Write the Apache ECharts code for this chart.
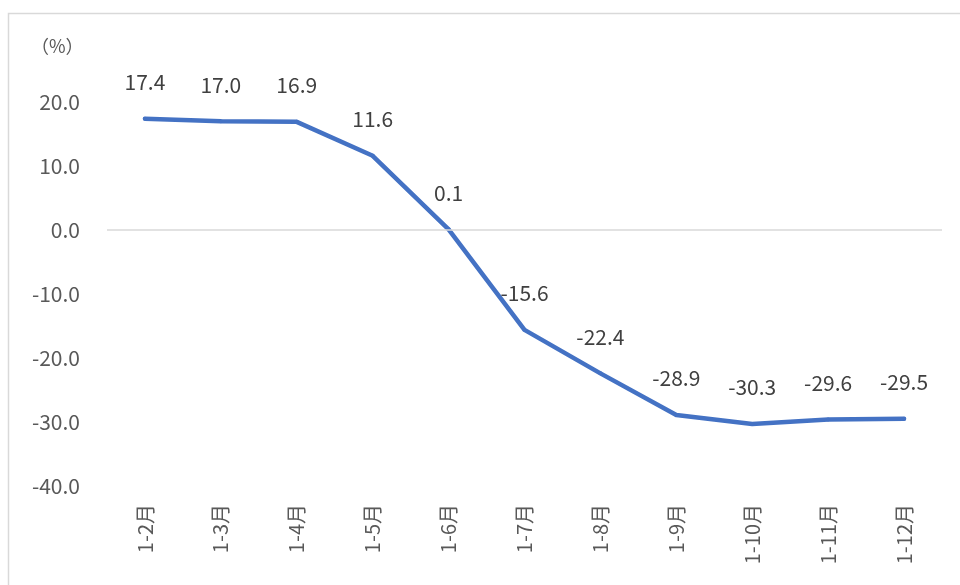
<!DOCTYPE html>
<html>
<head>
<meta charset="utf-8">
<script src="https://cdn.jsdelivr.net/npm/echarts@6/dist/echarts.min.js"></script>
<style>html,body{margin:0;padding:0;background:#fff}#c{width:960px;height:585px}</style>
</head>
<body>
<div id="c"></div>
<script>
var categories = ['1-2月','1-3月','1-4月','1-5月','1-6月','1-7月','1-8月','1-9月','1-10月','1-11月','1-12月'];
var values = [17.4, 17.0, 16.9, 11.6, 0.1, -15.6, -22.4, -28.9, -30.3, -29.6, -29.5];
var yTicks = [-40, -30, -20, -10, 0, 10, 20];
var unitLabel = '（%）';

var font = "'Noto Sans CJK SC', 'Noto Sans', sans-serif";
var chart = echarts.init(document.getElementById('c'));
chart.setOption({
  animation: false,
  backgroundColor: '#fff',
  graphic: [
    { type: 'rect', shape: { x: 8.5, y: 13.5, width: 1000, height: 1000 }, style: { fill: 'none', stroke: '#d9d9d9', lineWidth: 1.5 }, silent: true },
    { type: 'text', left: 31, top: 37, style: { text: unitLabel, fill: '#595959', fontSize: 18, fontFamily: 'Noto Sans CJK SC', letterSpacing: 3 } }
  ],
  grid: { left: 107, right: 18, top: 102, bottom: 99, containLabel: false },
  xAxis: {
    type: 'category',
    data: categories,
    boundaryGap: true,
    axisLine: { show: false, onZero: false },
    axisTick: { show: false },
    splitLine: { show: false },
    axisLabel: { rotate: 90, margin: 18, fontSize: 20, color: '#595959', fontFamily: font }
  },
  yAxis: {
    type: 'value',
    min: yTicks[0],
    max: yTicks[yTicks.length - 1],
    interval: 10,
    axisLine: { show: false },
    axisTick: { show: false },
    splitLine: { show: false },
    axisLabel: { margin: 27, fontSize: 21, color: '#595959', fontFamily: font, formatter: function (v) { return v.toFixed(1); } }
  },
  series: [{
    type: 'line',
    data: values,
    symbol: 'circle',
    symbolSize: 4,
    showSymbol: true,
    itemStyle: { color: '#4472C4' },
    lineStyle: { color: '#4472C4', width: 4.5, cap: 'round', join: 'round' },
    label: { show: true, position: 'top', distance: 24, fontSize: 21, color: '#404040', fontFamily: font, formatter: function (p) { return Number(p.value).toFixed(1); } },
    labelLayout: { hideOverlap: false },
    markLine: {
      silent: true, symbol: 'none', label: { show: false },
      lineStyle: { color: '#d9d9d9', width: 1.5, type: 'solid' },
      data: [{ yAxis: 0 }]
    },
    z: 3
  }]
});
</script>
</body>
</html>
